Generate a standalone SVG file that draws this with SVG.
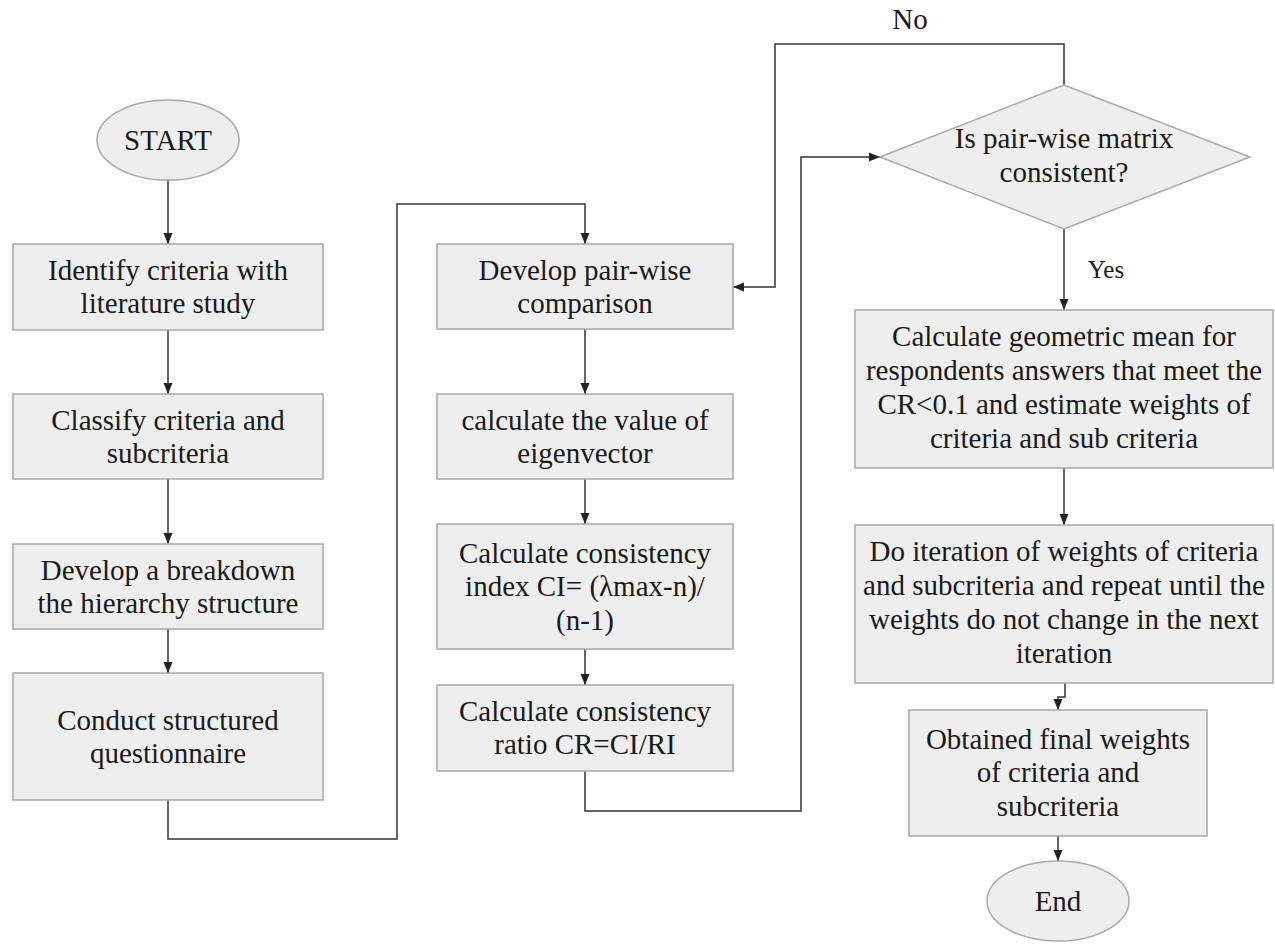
<svg xmlns="http://www.w3.org/2000/svg" width="1275" height="945" viewBox="0 0 1275 945">
<style>
.box{fill:#eeeeee;stroke:#a8a8a8;stroke-width:1.5}
.c{fill:none;stroke:#333333;stroke-width:1.5}
</style>
<defs>
<marker id="ah" markerUnits="userSpaceOnUse" markerWidth="12" markerHeight="10" refX="11" refY="5" orient="auto">
<path d="M0,0.5 L11,5 L0,9.5 z" fill="#222222"/>
</marker>
</defs>
<rect width="1275" height="945" fill="#ffffff"/>

<g id="connectors">
<path class="c" d="M168,180 V244" marker-end="url(#ah)"/>
<path class="c" d="M168,330 V394" marker-end="url(#ah)"/>
<path class="c" d="M168,479 V544" marker-end="url(#ah)"/>
<path class="c" d="M168,629 V673" marker-end="url(#ah)"/>
<path class="c" d="M168,800 V839 H397 V204 H585 V244" marker-end="url(#ah)"/>
<path class="c" d="M585,329 V394" marker-end="url(#ah)"/>
<path class="c" d="M585,479 V524" marker-end="url(#ah)"/>
<path class="c" d="M585,649 V685" marker-end="url(#ah)"/>
<path class="c" d="M585,771 V811 H801 V157 H880" marker-end="url(#ah)"/>
<path class="c" d="M1064,85 V44 H775 V287 H733" marker-end="url(#ah)"/>
<path class="c" d="M1064,229 V310" marker-end="url(#ah)"/>
<path class="c" d="M1064,468 V525" marker-end="url(#ah)"/>
<path class="c" d="M1065,683 V697 H1058 V710" marker-end="url(#ah)"/>
<path class="c" d="M1058,836 V861" marker-end="url(#ah)"/>
<text x="910" y="29" text-anchor="middle" fill="#1a1a1a" style="font-family:'Liberation Serif',serif;font-size:29px">No</text>
<text x="1106" y="278" text-anchor="middle" fill="#1a1a1a" style="font-family:'Liberation Serif',serif;font-size:25px">Yes</text>
</g>

<g id="start">
<ellipse class="box" cx="168" cy="140" rx="71" ry="40"/>
<text x="168" y="150" text-anchor="middle" fill="#1a1a1a" style="font-family:'Liberation Serif',serif;font-size:29px">START</text>
</g>

<g id="identify">
<rect class="box" x="13" y="244" width="310" height="86"/>
<text x="168" y="280" text-anchor="middle" fill="#1a1a1a" style="font-family:'Liberation Serif',serif;font-size:29px">Identify criteria with</text>
<text x="168" y="313" text-anchor="middle" fill="#1a1a1a" style="font-family:'Liberation Serif',serif;font-size:29px">literature study</text>
</g>

<g id="classify">
<rect class="box" x="13" y="394" width="310" height="85"/>
<text x="168" y="430" text-anchor="middle" fill="#1a1a1a" style="font-family:'Liberation Serif',serif;font-size:29px">Classify criteria and</text>
<text x="168" y="463" text-anchor="middle" fill="#1a1a1a" style="font-family:'Liberation Serif',serif;font-size:29px">subcriteria</text>
</g>

<g id="breakdown">
<rect class="box" x="13" y="544" width="310" height="85"/>
<text x="168" y="580" text-anchor="middle" fill="#1a1a1a" style="font-family:'Liberation Serif',serif;font-size:29px">Develop a breakdown</text>
<text x="168" y="613" text-anchor="middle" fill="#1a1a1a" style="font-family:'Liberation Serif',serif;font-size:29px">the hierarchy structure</text>
</g>

<g id="questionnaire">
<rect class="box" x="13" y="673" width="310" height="127"/>
<text x="168" y="730" text-anchor="middle" fill="#1a1a1a" style="font-family:'Liberation Serif',serif;font-size:29px">Conduct structured</text>
<text x="168" y="763" text-anchor="middle" fill="#1a1a1a" style="font-family:'Liberation Serif',serif;font-size:29px">questionnaire</text>
</g>

<g id="pairwise">
<rect class="box" x="437" y="244" width="296" height="85"/>
<text x="585" y="280" text-anchor="middle" fill="#1a1a1a" style="font-family:'Liberation Serif',serif;font-size:29px">Develop pair-wise</text>
<text x="585" y="313" text-anchor="middle" fill="#1a1a1a" style="font-family:'Liberation Serif',serif;font-size:29px">comparison</text>
</g>

<g id="eigenvector">
<rect class="box" x="437" y="394" width="296" height="85"/>
<text x="585" y="430" text-anchor="middle" fill="#1a1a1a" style="font-family:'Liberation Serif',serif;font-size:29px">calculate the value of</text>
<text x="585" y="463" text-anchor="middle" fill="#1a1a1a" style="font-family:'Liberation Serif',serif;font-size:29px">eigenvector</text>
</g>

<g id="ci">
<rect class="box" x="437" y="524" width="296" height="125"/>
<text x="585" y="563" text-anchor="middle" fill="#1a1a1a" style="font-family:'Liberation Serif',serif;font-size:29px">Calculate consistency</text>
<text x="585" y="596" text-anchor="middle" fill="#1a1a1a" style="font-family:'Liberation Serif',serif;font-size:29px">index CI= (&#955;max-n)/</text>
<text x="585" y="630" text-anchor="middle" fill="#1a1a1a" style="font-family:'Liberation Serif',serif;font-size:29px">(n-1)</text>
</g>

<g id="cr">
<rect class="box" x="437" y="685" width="296" height="86"/>
<text x="585" y="721" text-anchor="middle" fill="#1a1a1a" style="font-family:'Liberation Serif',serif;font-size:29px">Calculate consistency</text>
<text x="585" y="754" text-anchor="middle" fill="#1a1a1a" style="font-family:'Liberation Serif',serif;font-size:29px">ratio CR=CI/RI</text>
</g>

<g id="decision">
<polygon class="box" points="880,157 1064,85 1250,157 1064,229"/>
<text x="1064" y="148" text-anchor="middle" fill="#1a1a1a" style="font-family:'Liberation Serif',serif;font-size:29px">Is pair-wise matrix</text>
<text x="1064" y="182" text-anchor="middle" fill="#1a1a1a" style="font-family:'Liberation Serif',serif;font-size:29px">consistent?</text>
</g>

<g id="geomean">
<rect class="box" x="855" y="310" width="418" height="158"/>
<text x="1064" y="346" text-anchor="middle" fill="#1a1a1a" style="font-family:'Liberation Serif',serif;font-size:29px">Calculate geometric mean for</text>
<text x="1064" y="380" text-anchor="middle" fill="#1a1a1a" style="font-family:'Liberation Serif',serif;font-size:29px">respondents answers that meet the</text>
<text x="1064" y="414" text-anchor="middle" fill="#1a1a1a" style="font-family:'Liberation Serif',serif;font-size:29px">CR&lt;0.1 and estimate weights of</text>
<text x="1064" y="448" text-anchor="middle" fill="#1a1a1a" style="font-family:'Liberation Serif',serif;font-size:29px">criteria and sub criteria</text>
</g>

<g id="iteration">
<rect class="box" x="855" y="525" width="418" height="158"/>
<text x="1064" y="561" text-anchor="middle" fill="#1a1a1a" style="font-family:'Liberation Serif',serif;font-size:29px">Do iteration of weights of criteria</text>
<text x="1064" y="595" text-anchor="middle" fill="#1a1a1a" style="font-family:'Liberation Serif',serif;font-size:29px">and subcriteria and repeat until the</text>
<text x="1064" y="629" text-anchor="middle" fill="#1a1a1a" style="font-family:'Liberation Serif',serif;font-size:29px">weights do not change in the next</text>
<text x="1064" y="663" text-anchor="middle" fill="#1a1a1a" style="font-family:'Liberation Serif',serif;font-size:29px">iteration</text>
</g>

<g id="final">
<rect class="box" x="909" y="710" width="298" height="126"/>
<text x="1058" y="749" text-anchor="middle" fill="#1a1a1a" style="font-family:'Liberation Serif',serif;font-size:29px">Obtained final weights</text>
<text x="1058" y="782" text-anchor="middle" fill="#1a1a1a" style="font-family:'Liberation Serif',serif;font-size:29px">of criteria and</text>
<text x="1058" y="816" text-anchor="middle" fill="#1a1a1a" style="font-family:'Liberation Serif',serif;font-size:29px">subcriteria</text>
</g>

<g id="end">
<ellipse class="box" cx="1058" cy="901" rx="71" ry="40"/>
<text x="1058" y="911" text-anchor="middle" fill="#1a1a1a" style="font-family:'Liberation Serif',serif;font-size:29px">End</text>
</g>
</svg>
